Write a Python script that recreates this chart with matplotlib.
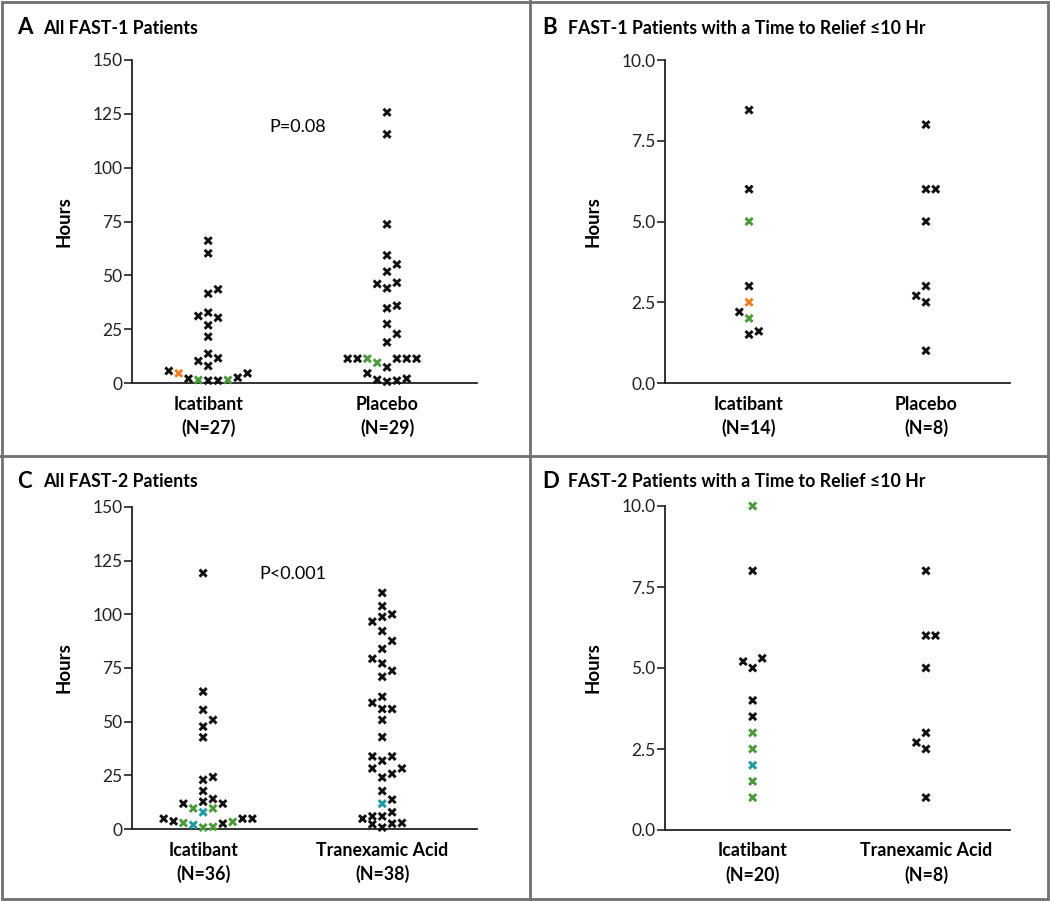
import matplotlib
matplotlib.use("Agg")
import matplotlib.pyplot as plt
from matplotlib.lines import Line2D
from matplotlib.patches import Rectangle

plt.rcParams['font.family'] = ['Lato', 'DejaVu Sans']

# point colours by patient group code
code_colors = {'k': '#111111', 'o': '#f07f22', 'g': '#4c9a3c', 't': '#1f9aa0'}

# ---- panel A: all FAST-1 patients (hours) ----
a_ica_val = [66.1, 60.2, 41.5, 43.5, 31.1, 32.7, 30.3, 26.8, 21.5, 13.6, 10.2, 11.5, 7.9,
             5.6, 4.5, 2.0, 1.4, 1.1, 1.1, 1.4, 2.5, 4.5]
a_ica_col = ['k'] * 14 + ['o', 'k', 'g', 'k', 'k', 'g', 'k', 'k']
a_ica_slot = [0, 0, 0, 1, -1, 0, 1, 0, 0, 0, -1, 1, 0, -4, -3, -2, -1, 0, 1, 2, 3, 4]

a_pla_val = [125.7, 115.5, 73.7, 59.3, 55.1, 51.7, 46.0, 44.0, 46.6, 34.7, 35.9, 27.4, 18.9, 22.8,
             11.3, 11.3, 11.3, 11.3, 11.3, 11.3, 9.4, 7.3, 4.5, 1.5, 0.6, 1.1, 2.0]
a_pla_col = ['k'] * 16 + ['g', 'k', 'k', 'k', 'g'] + ['k'] * 6
a_pla_slot = [0, 0, 0, 0, 1, 0, -1, 0, 1, 0, 1, 0, 0, 1,
              -4, -3, -2, 1, 2, 3, -1, 0, -2, -1, 0, 1, 2]

# ---- panel B: FAST-1 patients with relief <=10 hr ----
b_ica_val = [8.45, 6.0, 5.0, 3.0, 2.5, 2.2, 2.0, 1.5, 1.6]
b_ica_col = ['k', 'k', 'g', 'k', 'o', 'k', 'g', 'k', 'k']
b_ica_slot = [0, 0, 0, 0, 0, -1, 0, 0, 1]

b_pla_val = [8.0, 6.0, 6.0, 5.0, 3.0, 2.7, 2.5, 1.0]
b_pla_col = ['k'] * 8
b_pla_slot = [0, 0, 1, 0, 0, -1, 0, 0]

# ---- panel C: all FAST-2 patients ----
c_ica_val = [119.2, 64.0, 55.5, 50.8, 47.7, 42.7, 22.9, 24.2, 17.7, 11.8, 12.7, 14.0, 11.8,
             9.6, 7.8, 9.6, 4.8, 3.6, 2.8, 1.9, 0.7, 1.0, 2.5, 3.3, 4.8, 4.8]
c_ica_col = ['k'] * 13 + ['g', 't', 'g', 'k', 'k', 'g', 't', 'g', 'g', 'k', 'g', 'k', 'k']
c_ica_slot = [0, 0, 0, 1, 0, 0, 0, 1, 0, -2, 0, 1, 2,
              -1, 0, 1, -4, -3, -2, -1, 0, 1, 2, 3, 4, 5]

c_tra_val = [110.0, 103.8, 98.8, 100.0, 96.6, 92.2, 87.6, 83.9, 79.3, 77.1, 73.7, 70.9,
             61.6, 58.8, 55.9, 55.9, 50.8, 42.8, 33.8, 31.8, 33.8, 28.2, 28.2, 25.7, 24.0,
             17.7, 11.8, 13.7, 7.8, 4.8, 5.9, 5.9, 2.2, 0.7, 2.5, 2.8]
c_tra_col = ['k'] * 26 + ['t'] + ['k'] * 9
c_tra_slot = [0, 0, 0, 1, -1, 0, 1, 0, -1, 0, 1, 0,
              0, -1, 0, 1, 0, 0, -1, 0, 1, -1, 2, 1, 0,
              0, 0, 1, 1, -2, -1, 0, -1, 0, 1, 2]

# ---- panel D: FAST-2 patients with relief <=10 hr ----
d_ica_val = [10.0, 8.0, 5.2, 5.0, 5.3, 4.0, 3.5, 3.0, 2.5, 2.0, 1.5, 1.0]
d_ica_col = ['g', 'k', 'k', 'k', 'k', 'k', 'k', 'g', 'g', 't', 'g', 'g']
d_ica_slot = [0, 0, -1, 0, 1, 0, 0, 0, 0, 0, 0, 0]

d_tra_val = [8.0, 6.0, 6.0, 5.0, 3.0, 2.7, 2.5, 1.0]
d_tra_col = ['k'] * 8
d_tra_slot = [0, 0, 1, 0, 0, -1, 0, 0]

panels = [
    dict(letter='A', title='All FAST-1 Patients',
         groups=[(a_ica_val, a_ica_col, a_ica_slot), (a_pla_val, a_pla_col, a_pla_slot)],
         labels=['Icatibant\n(N=27)', 'Placebo\n(N=29)'],
         yticks=[0, 25, 50, 75, 100, 125, 150], ytl=None, ymax=150,
         xlim=(0.574, 2.503), ptext='P=0.08',
         rect=[132, 60, 477, 383]),
    dict(letter='B', title='FAST-1 Patients with a Time to Relief \u226410 Hr',
         groups=[(b_ica_val, b_ica_col, b_ica_slot), (b_pla_val, b_pla_col, b_pla_slot)],
         labels=['Icatibant\n(N=14)', 'Placebo\n(N=8)'],
         yticks=[0, 2.5, 5, 7.5, 10], ytl=['0.0', '2.5', '5.0', '7.5', '10.0'], ymax=10,
         xlim=(0.525, 2.475), ptext=None,
         rect=[665, 60, 1010, 383]),
    dict(letter='C', title='All FAST-2 Patients',
         groups=[(c_ica_val, c_ica_col, c_ica_slot), (c_tra_val, c_tra_col, c_tra_slot)],
         labels=['Icatibant\n(N=36)', 'Tranexamic Acid\n(N=38)'],
         yticks=[0, 25, 50, 75, 100, 125, 150], ytl=None, ymax=150,
         xlim=(0.603, 2.529), ptext='P<0.001',
         rect=[132, 507, 477, 829]),
    dict(letter='D', title='FAST-2 Patients with a Time to Relief \u226410 Hr',
         groups=[(d_ica_val, d_ica_col, d_ica_slot), (d_tra_val, d_tra_col, d_tra_slot)],
         labels=['Icatibant\n(N=20)', 'Tranexamic Acid\n(N=8)'],
         yticks=[0, 2.5, 5, 7.5, 10], ytl=['0.0', '2.5', '5.0', '7.5', '10.0'], ymax=10,
         xlim=(0.494, 2.485), ptext=None,
         rect=[665, 506, 1010, 830]),
]

W, H = 1050, 901
fig = plt.figure(figsize=(W / 100, H / 100), dpi=100)
step = 0.055

for p in panels:
    x0, y0, x1, y1 = p['rect']
    ax = fig.add_axes([x0 / W, 1 - y1 / H, (x1 - x0) / W, (y1 - y0) / H])
    for gi, (vals, cols, slots) in enumerate(p['groups']):
        xs = [gi + 1 + s * step for s in slots]
        ax.scatter(xs, vals, marker='x', s=26, linewidths=2.1,
                   c=[code_colors[c] for c in cols], clip_on=False, zorder=3)
    ax.set_xlim(*p['xlim'])
    ax.set_ylim(0, p['ymax'])
    ax.set_yticks(p['yticks'])
    if p['ytl']:
        ax.set_yticklabels(p['ytl'])
    ax.set_xticks([1, 2])
    ax.set_xticklabels(p['labels'], fontsize=12.8, fontweight='bold', linespacing=1.4)
    ax.tick_params(axis='x', length=0, pad=9)
    ax.tick_params(axis='y', direction='out', length=6, width=1.2, labelsize=12.5, pad=1,
                   colors='#222222')
    for side in ['top', 'right']:
        ax.spines[side].set_visible(False)
    for side in ['left', 'bottom']:
        ax.spines[side].set_linewidth(1.3)
        ax.spines[side].set_color('#222222')
    ax.set_ylabel('Hours', fontsize=13.5, fontweight='bold', labelpad=14)
    if p['ptext']:
        ax.text(1.5, 119, p['ptext'], ha='center', va='center', fontsize=13)
    # panel letter and title
    tx = 17 if x0 < 500 else 542
    ty = 28 if y0 < 300 else 482
    fig.text(tx / W, 1 - ty / H, p['letter'], fontsize=16, fontweight='bold', va='center')
    fig.text((tx + 26) / W, 1 - ty / H, p['title'], fontsize=12.8, fontweight='bold', va='center')

# grey frame and panel dividers
grey = '#707070'
fig.add_artist(Rectangle((2 / W, 2 / H), (W - 4) / W, (H - 4) / H, transform=fig.transFigure,
                         fill=False, edgecolor=grey, linewidth=2))
fig.add_artist(Line2D([530 / W, 530 / W], [0, 1], transform=fig.transFigure, color=grey, linewidth=2))
fig.add_artist(Line2D([0, 1], [1 - 456 / H, 1 - 456 / H], transform=fig.transFigure, color=grey, linewidth=2))

fig.savefig('out.png', dpi=100)
